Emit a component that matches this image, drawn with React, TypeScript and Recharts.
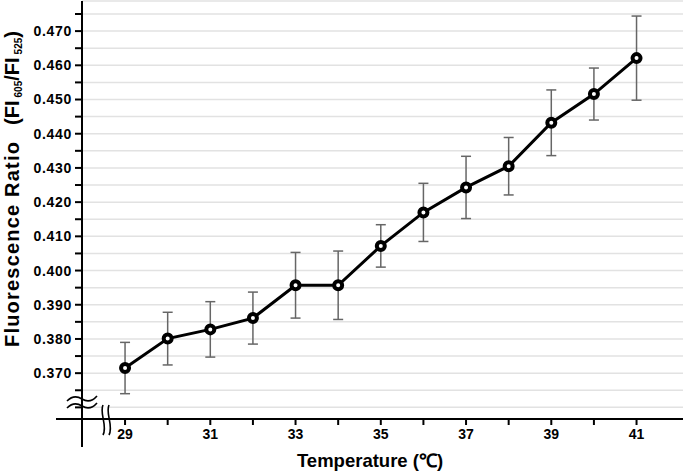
import React from 'react';
import { ComposedChart, Line, XAxis, YAxis, CartesianGrid, ErrorBar, Customized } from 'recharts';

// values
const temperatures = [29, 30, 31, 32, 33, 34, 35, 36, 37, 38, 39, 40, 41];
const ratios = [0.3715, 0.3801, 0.3828, 0.3861, 0.3957, 0.3957, 0.4072, 0.4170, 0.4243, 0.4305, 0.4432, 0.4516, 0.4621];
const errors = [0.0075, 0.0077, 0.0081, 0.0076, 0.0096, 0.0100, 0.0062, 0.0085, 0.0091, 0.0084, 0.0096, 0.0076, 0.0123];

const xTicks = [29, 30, 31, 32, 33, 34, 35, 36, 37, 38, 39, 40, 41];
const yTicks = [0.360, 0.365, 0.370, 0.375, 0.380, 0.385, 0.390, 0.395, 0.400, 0.405, 0.410, 0.415, 0.420,
  0.425, 0.430, 0.435, 0.440, 0.445, 0.450, 0.455, 0.460, 0.465, 0.470, 0.475];
const yLabelMin = 0.370;

const data = temperatures.map((t, i) => ({ temp: t, ratio: ratios[i], err: errors[i] }));

const W = 685;
const H = 474;
const LEFT = 82;
const TOP = 1;
const RIGHT = 683;
const BOTTOM = 419;
const FONT = '"Liberation Sans", Arial, Helvetica, sans-serif';

// axis extensions, break marks and titles
const Decorations = () => (
  <g>
    <line x1={56} y1={BOTTOM} x2={LEFT} y2={BOTTOM} stroke="#000" strokeWidth={2} />
    <line x1={LEFT} y1={BOTTOM} x2={LEFT} y2={447} stroke="#000" strokeWidth={2} />

    {/* y break */}
    <path d="M67,401 Q74,394 82,399 T97,396 L97,403 Q89,408 82,406 T67,408 Z" fill="#fff" stroke="none" />
    <path d="M67,401 Q74,394 82,399 T97,396" fill="none" stroke="#000" strokeWidth={1.6} />
    <path d="M67,408 Q74,401 82,406 T97,403" fill="none" stroke="#000" strokeWidth={1.6} />

    {/* x break */}
    <path d="M103,405 C99,413 108,426 103,435 L109,435 C114,426 105,413 109,405 Z" fill="#fff" stroke="none" />
    <path d="M103,405 C99,413 108,426 103,435" fill="none" stroke="#000" strokeWidth={1.6} />
    <path d="M109,405 C105,413 114,426 109,435" fill="none" stroke="#000" strokeWidth={1.6} />

    <text x={370} y={467} textAnchor="middle" fontFamily={FONT} fontWeight="bold" fontSize={18.5} fill="#000">
      Temperature (℃)
    </text>

    <text transform="rotate(-90)" x={-347} y={19} fontFamily={FONT} fontWeight="bold" fontSize={20} fill="#000">
      <tspan letterSpacing={1.2}>Fluorescence Ratio</tspan>
      <tspan dx={16}>(FI</tspan>
      <tspan fontSize={10} dx={3} dy={3}>605</tspan>
      <tspan dy={-3}>/FI</tspan>
      <tspan fontSize={10} dx={3} dy={3}>525</tspan>
      <tspan dy={-3}>)</tspan>
    </text>
  </g>
);

export default function App() {
  return (
    <div style={{ position: 'absolute', left: 0, top: 0, width: W, height: H, background: '#fff' }}>
      <ComposedChart width={W} height={H} data={data} margin={{ top: TOP, right: W - RIGHT, left: 0, bottom: 0 }}>
        <CartesianGrid horizontal vertical={false} stroke="#e2e2e2" strokeWidth={1.5} />
        <XAxis
          dataKey="temp"
          type="number"
          domain={[27.99, 42.09]}
          allowDataOverflow
          ticks={xTicks}
          interval={0}
          height={H - BOTTOM}
          tickFormatter={(v: number) => (v % 2 === 1 ? String(v) : '')}
          axisLine={{ stroke: '#000', strokeWidth: 2 }}
          tickLine={{ stroke: '#000', strokeWidth: 2 }}
          tickSize={6}
          tickMargin={4}
          tick={{ fill: '#000', fontSize: 14, fontWeight: 'bold', fontFamily: FONT }}
        />
        <YAxis
          type="number"
          domain={[0.3566, 0.4788]}
          allowDataOverflow
          ticks={yTicks}
          interval={0}
          width={LEFT}
          tickFormatter={(v: number) =>
            Math.round(v * 1000) % 10 === 0 && v >= yLabelMin - 1e-9 ? v.toFixed(3) : ''}
          axisLine={{ stroke: '#000', strokeWidth: 2 }}
          tickLine={{ stroke: '#000', strokeWidth: 2 }}
          tickSize={7}
          tickMargin={3}
          tick={{ fill: '#000', fontSize: 14, fontWeight: 'bold', fontFamily: FONT, letterSpacing: 0.7 }}
        />
        <Line
          dataKey="ratio"
          stroke="#000"
          strokeWidth={3}
          dot={{ r: 4, stroke: '#000', strokeWidth: 4, fill: '#fff' }}
          activeDot={false}
          isAnimationActive={false}
        >
          <ErrorBar dataKey="err" direction="y" width={5} stroke="#666" strokeWidth={1.5} />
        </Line>
        <Customized component={Decorations} />
      </ComposedChart>
    </div>
  );
}
